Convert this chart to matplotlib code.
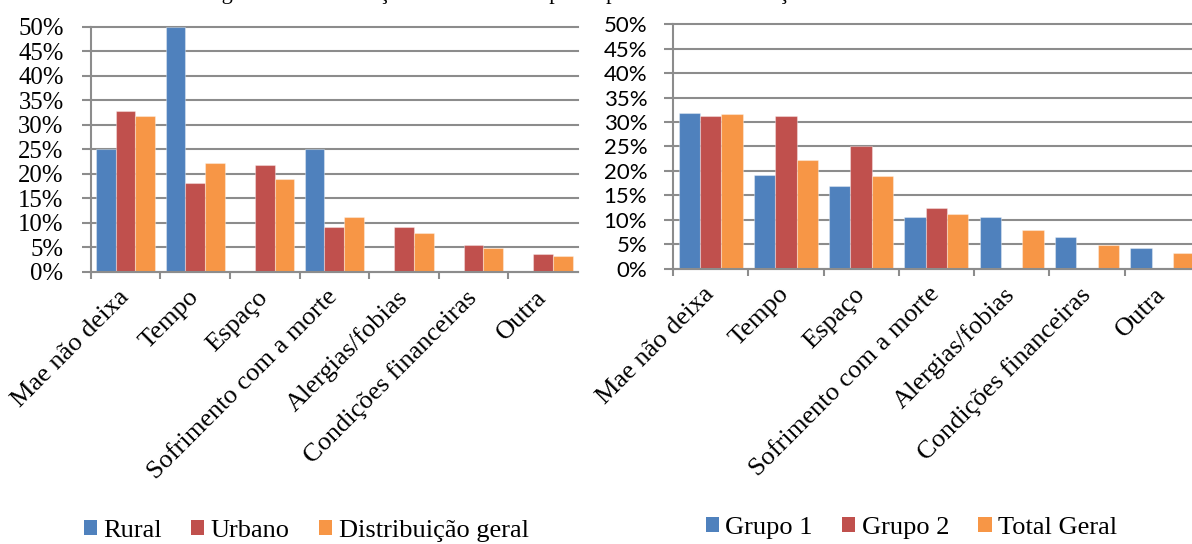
import numpy as np
import matplotlib.pyplot as plt
from matplotlib.patches import Patch

motivos = ['Mae não deixa', 'Tempo', 'Espaço', 'Sofrimento com a morte',
           'Alergias/fobias', 'Condições financeiras', 'Outra']

# distribuição por zona (%)
rural = [25.0, 50.0, 0, 25.0, 0, 0, 0]
urbano = [32.7, 18.2, 21.8, 9.1, 9.1, 5.5, 3.6]
dist_geral = [31.7, 22.2, 19.0, 11.1, 7.9, 4.8, 3.2]

# distribuição por grupo (%)
grupo1 = [31.9, 19.1, 17.0, 10.6, 10.6, 6.4, 4.3]
grupo2 = [31.25, 31.25, 25.0, 12.5, 0, 0, 0]
total_geral = [31.7, 22.2, 19.0, 11.1, 7.9, 4.8, 3.2]

cores = ['#4F81BD', '#C0504D', '#F79646']
cinza = '#8C8C8C'
serif = 'Liberation Serif'

W, H = 1192, 544
fig = plt.figure(figsize=(W / 100, H / 100), dpi=100)


def barras(ax, series, fonte_y, tam_y, pad_y):
    x = np.arange(len(motivos))
    w = 1 / 3.53
    for k, (vals, cor) in enumerate(zip(series, cores)):
        ax.bar(x + (k - 1) * w, vals, w, color=cor,
               edgecolor=(1, 1, 1, 0.35), linewidth=0.8)
    ax.set_xlim(-0.5, len(motivos) - 0.5)
    ax.set_ylim(0, 50)
    ax.set_yticks(np.arange(0, 51, 5))
    ax.set_yticklabels(['%d%%' % v for v in range(0, 51, 5)],
                       fontfamily=fonte_y, fontsize=tam_y)
    ax.grid(axis='y', color=cinza, linewidth=1.5)
    for gl in ax.get_ygridlines():
        gl.set_clip_on(False)
    ax.set_axisbelow(True)
    for s in ['top', 'right']:
        ax.spines[s].set_visible(False)
    for s in ['left', 'bottom']:
        ax.spines[s].set_color(cinza)
        ax.spines[s].set_linewidth(1.5)
    ax.tick_params(axis='y', length=6.5, width=1.5, color=cinza, pad=pad_y)

    ax.set_xticks(x)
    ax.set_xticklabels(motivos, rotation=45, ha='right', va='center',
                       rotation_mode='anchor', fontfamily=serif, fontsize=19)
    ax.tick_params(axis='x', which='major', length=0, pad=16)
    ax.set_xticks(np.arange(-0.5, len(motivos) - 1), minor=True)
    ax.tick_params(axis='x', which='minor', length=5, width=1.5, color=cinza)


ax1 = fig.add_axes([90.7 / W, 1 - 271.7 / H, 487.3 / W, 245.0 / H])
barras(ax1, [rural, urbano, dist_geral], serif, 17.8, 13)

ax2 = fig.add_axes([672.9 / W, 1 - 268.7 / H, 527.1 / W, 244.4 / H])
barras(ax2, [grupo1, grupo2, total_geral], 'Lato', 16, 12)

# legendas por baixo de cada gráfico
leg_kw = dict(loc='center left', ncol=3, frameon=False,
              prop={'family': serif, 'size': 19},
              handlelength=0.5, handleheight=0.5, handletextpad=0.25,
              columnspacing=1.1, borderpad=0, borderaxespad=0)
fig.legend([Patch(facecolor=c) for c in cores],
           ['Rural', 'Urbano', 'Distribuição geral'],
           bbox_to_anchor=(83.6 / W, 1 - 531 / H), **leg_kw)
fig.legend([Patch(facecolor=c) for c in cores],
           ['Grupo 1', 'Grupo 2', 'Total Geral'],
           bbox_to_anchor=(705.7 / W, 1 - 528 / H), **leg_kw)

# título (cortado no topo da página)
fig.text(203 / W, 1 + 1.5 / H,
         'Figura 6 – Distribuição das razões dos pais e professores em relação à não adesão',
         fontfamily=serif, fontsize=16, va='baseline', ha='left')

fig.savefig('out.png', dpi=100)
